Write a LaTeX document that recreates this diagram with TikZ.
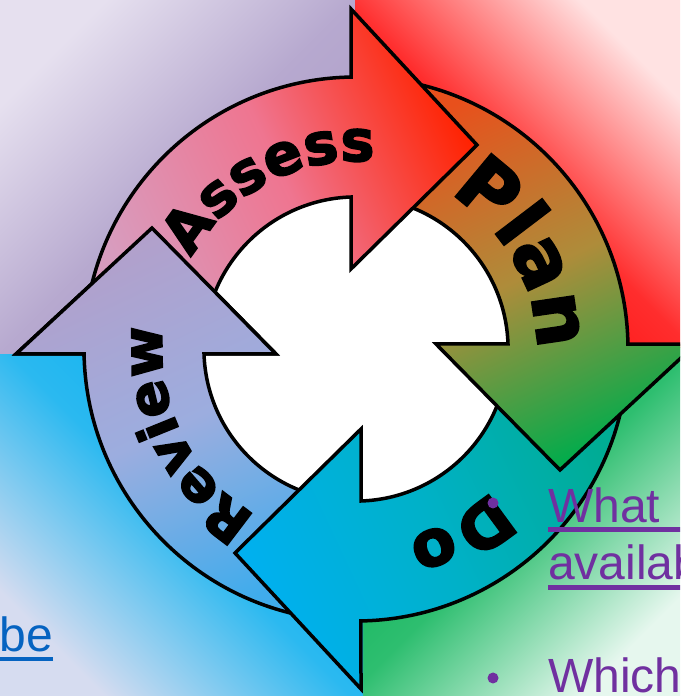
\documentclass[tikz,border=0pt]{standalone}
\usepackage{fontspec}
\setmainfont{Liberation Sans}
\newfontfamily\cyclefont{DejaVu Sans Bold}[FakeBold=3]
\usetikzlibrary{decorations.text}

\definecolor{lilaclight}{HTML}{E6E0EF}
\definecolor{lilacdark}{HTML}{AB9BC7}
\definecolor{redlight}{HTML}{FFE2E2}
\definecolor{reddark}{HTML}{FF0000}
\definecolor{greenlight}{HTML}{E6F7EE}
\definecolor{greendark}{HTML}{00B050}
\definecolor{bluelight}{HTML}{D6DCF0}
\definecolor{bluedark}{HTML}{00B0F0}
\definecolor{assesstail}{HTML}{D89CBE}
\definecolor{assessmid}{HTML}{EF7590}
\definecolor{assesshead}{HTML}{FF2200}
\definecolor{plantail}{HTML}{E8501C}
\definecolor{planmid}{HTML}{AE8C3A}
\definecolor{planhead}{HTML}{00AC4C}
\definecolor{dotail}{HTML}{00AC94}
\definecolor{domid}{HTML}{00B1C8}
\definecolor{dohead}{HTML}{00B0F0}
\definecolor{reviewtail}{HTML}{40ACEC}
\definecolor{reviewmid}{HTML}{9CADDF}
\definecolor{reviewhead}{HTML}{B2A0CB}
\definecolor{notepurple}{HTML}{7030A0}
\definecolor{linkblue}{HTML}{0563C1}

\newcommand{\ringarrow}{(176:272) arc[start angle=176, end angle=91.05, radius=272]
  -- (-5,340) -- (121,204) -- (-5,80) -- (-5,152)
  arc[start angle=91.89, end angle=176, radius=152] -- cycle}

\begin{document}
\begin{tikzpicture}[x=1pt, y=1pt,
    quad/.style 2 args={top color=#1, bottom color=#2, middle color=#2!80!#1},
    ringline/.style={draw=black, line width=3.5pt},
    arrowfill/.style 2 args={left color=#1tail, right color=#1head, middle color=#1mid, shading angle=#2},
    cycletext/.style 2 args={decorate, decoration={text along path, text align=fit to path,
        text={|\cyclefont\fontsize{#1}{#1}\selectfont|#2}}},
    note/.style={font=\fontsize{48}{57}\selectfont, inner sep=0pt, anchor=base west},
  ]
  \useasboundingbox (0,0) rectangle (680,696);
  \clip (0,0) rectangle (680,696);

  \shade[quad={lilaclight}{lilacdark}, shading angle=45] (0,341) rectangle (355,696);
  \shade[quad={redlight}{reddark}, shading angle=-45] (355,348) rectangle (680,696);
  \shade[quad={greenlight}{greendark}, shading angle=-135] (363,0) rectangle (680,348);
  \shade[quad={bluelight}{bluedark}, shading angle=135] (0,0) rectangle (363,341);

  \coordinate (c) at (356,347);
  \begin{scope}[shift={(c)}]
    \fill[white] (0,0) circle[radius=156];
    \shade[ringline, arrowfill={review}{-155}, rotate=90] \ringarrow;
    \shade[ringline, arrowfill={do}{-65}, rotate=180] \ringarrow;
    \shade[ringline, arrowfill={plan}{25}, rotate=-90] \ringarrow;
    \shade[ringline, arrowfill={assess}{115}] \ringarrow;
    \begin{scope}[rotate=90]
      \clip (-8,60) rectangle (140,360);
      \shade[ringline, arrowfill={review}{-155}] \ringarrow;
    \end{scope}

    \path[cycletext={57}{Assess}] (151:188) arc[start angle=151, end angle=86, radius=188];
    \path[cycletext={76}{Plan}] (59:181) arc[start angle=59, end angle=0, radius=181];
    \path[cycletext={64}{Do}] (-46:196) arc[start angle=-46, end angle=-75, radius=196];
    \path[cycletext={55}{Review}] (239:194) arc[start angle=239, end angle=177, radius=194];
  \end{scope}

  \fill[notepurple] (493,193) circle[radius=5.5];
  \node[note, text=notepurple] (what) at (548,173) {What};
  \node[note, text=notepurple] (avail) at (548,116) {availab};
  \fill[notepurple] (493,18) circle[radius=5.5];
  \node[note, text=notepurple] (which) at (548,3) {Which};
  \node[note, text=linkblue, anchor=base east] (be) at (53,44) {be};
  \draw[notepurple, line width=5pt] ([yshift=-7pt]what.base west) -- ++(140,0);
  \draw[notepurple, line width=5pt] ([yshift=-8pt]avail.base west) -- ++(140,0);
  \draw[linkblue, line width=4pt] ([yshift=-7pt]be.base east) -- ++(-60,0);
\end{tikzpicture}
\end{document}
